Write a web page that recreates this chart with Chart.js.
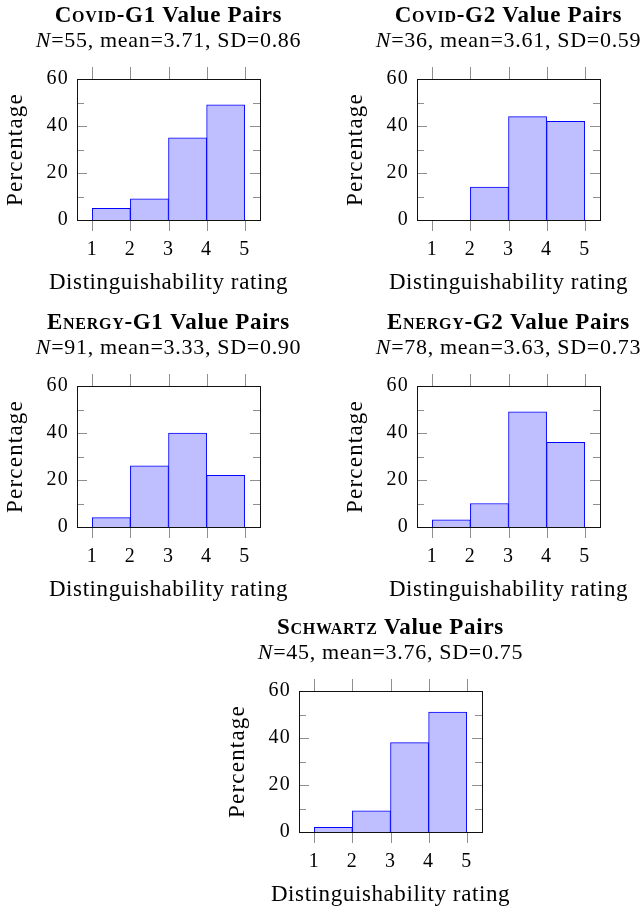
<!DOCTYPE html>
<html>
<head>
<meta charset="utf-8">
<title>Distinguishability ratings</title>
<script src="https://cdn.jsdelivr.net/npm/chart.js@4.4.1/dist/chart.umd.min.js"></script>
<style>
  html, body { margin: 0; padding: 0; background: #fff; overflow: hidden; }
  #page { position: relative; width: 641px; height: 908px; overflow: hidden; }
  canvas { position: absolute; }
</style>
</head>
<body>
<div id="page">
  <canvas id="covidG1" width="320" height="300" style="left:0px;top:0px"></canvas>
  <canvas id="covidG2" width="320" height="300" style="left:340px;top:0px"></canvas>
  <canvas id="energyG1" width="320" height="300" style="left:0px;top:307px"></canvas>
  <canvas id="energyG2" width="320" height="300" style="left:340px;top:307px"></canvas>
  <canvas id="schwartz" width="320" height="300" style="left:222px;top:612px"></canvas>
</div>
<script>
// histogram bins (rating intervals) and axis ticks
const binEdges = [1, 2, 3, 4, 5];
const yTicks = [0, 20, 40, 60];
const yMinorTicks = [10, 30, 50];

// percentage of value pairs per rating bin
const covidG1 = [5, 9, 35, 49];
const covidG2 = [0, 14, 44, 42];
const energyG1 = [4, 26, 40, 22];
const energyG2 = [3, 10, 49, 36];
const schwartz = [2, 9, 38, 51];

const panelIds = ['covidG1', 'covidG2', 'energyG1', 'energyG2', 'schwartz'];
const percentages = [covidG1, covidG2, energyG1, energyG2, schwartz];
const groupNames = ['Covid', 'Covid', 'Energy', 'Energy', 'Schwartz'];
const groupTags = ['-G1', '-G2', '-G1', '-G2', ''];
const sampleSizes = [55, 36, 91, 78, 45];
const means = ['3.71', '3.61', '3.33', '3.63', '3.76'];
const sds = ['0.86', '0.59', '0.90', '0.73', '0.75'];
const xTitle = 'Distinguishability rating';
const yTitle = 'Percentage';

const serif = '"Liberation Serif", "Times New Roman", serif';
const tickFont = { family: serif, size: 20 };
const labelFont = { family: serif, size: 23 };
const hasCaps = 'fontVariantCaps' in CanvasRenderingContext2D.prototype;

// Liberation Serif runs narrower than the book face, so open the text up a bit
const spacing = {
  id: 'spacing',
  beforeDraw(chart) { chart.ctx.letterSpacing = '1.2px'; },
  afterDraw(chart) { chart.ctx.letterSpacing = '0px'; }
};

// frame with pgfplots-like ticks: x ticks outside top/bottom, y ticks inside both sides
const frame = {
  id: 'frame',
  afterDatasetsDraw(chart) {
    const { ctx, chartArea: a, scales: { x, y } } = chart;
    ctx.save();
    ctx.lineWidth = 1;
    ctx.strokeStyle = '#8f8f8f';
    ctx.beginPath();
    binEdges.forEach(v => {
      const px = Math.round(x.getPixelForValue(v)) + 0.5;
      ctx.moveTo(px, a.top - 12); ctx.lineTo(px, a.top);
      ctx.moveTo(px, a.bottom); ctx.lineTo(px, a.bottom + 11);
    });
    const yTick = (v, len) => {
      const py = Math.round(y.getPixelForValue(v)) + 0.5;
      ctx.moveTo(a.left, py); ctx.lineTo(a.left + len, py);
      ctx.moveTo(a.right, py); ctx.lineTo(a.right - len, py);
    };
    yTicks.forEach(v => yTick(v, 10));
    yMinorTicks.forEach(v => yTick(v, 7));
    ctx.stroke();
    ctx.strokeStyle = '#111';
    ctx.strokeRect(Math.round(a.left) + 0.5, Math.round(a.top) + 0.5,
      Math.round(a.right - a.left), Math.round(a.bottom - a.top));
    ctx.restore();
  }
};

function drawRuns(ctx, runs, cx, baseline, gap) {
  ctx.letterSpacing = gap;
  let total = 0;
  runs.forEach(r => {
    ctx.font = r.font;
    if (hasCaps) ctx.fontVariantCaps = r.caps ? 'small-caps' : 'normal';
    r.w = ctx.measureText(r.text).width;
    total += r.w;
  });
  let x = cx - total / 2;
  ctx.fillStyle = '#000';
  ctx.textAlign = 'left';
  ctx.textBaseline = 'alphabetic';
  runs.forEach(r => {
    ctx.font = r.font;
    if (hasCaps) ctx.fontVariantCaps = r.caps ? 'small-caps' : 'normal';
    ctx.fillText(r.text, x, baseline);
    x += r.w;
  });
  if (hasCaps) ctx.fontVariantCaps = 'normal';
}

// bold small-caps title, statistics line and the x-axis caption
function header(i) {
  const bold = 'bold 23px ' + serif;
  const name = groupNames[i];
  const rest = name.slice(1);
  const title = [
    { text: name[0], font: bold },
    hasCaps ? { text: rest, font: bold, caps: true } : { text: rest.toUpperCase(), font: 'bold 17px ' + serif },
    { text: groupTags[i] + ' Value Pairs', font: bold }
  ];
  const subtitle = [
    { text: 'N', font: 'italic 22px ' + serif },
    { text: '=' + sampleSizes[i] + ', mean=' + means[i] + ', SD=' + sds[i], font: '22px ' + serif }
  ];
  const caption = [{ text: xTitle, font: labelFont.size + 'px ' + serif }];
  return {
    id: 'header' + i,
    afterDraw(chart) {
      const { ctx, chartArea: a } = chart;
      const cx = (a.left + a.right) / 2;
      ctx.save();
      drawRuns(ctx, title, cx, 22, '0.7px');
      drawRuns(ctx, subtitle, cx, 47, '0.7px');
      drawRuns(ctx, caption, cx, a.bottom + 69, '0.6px');
      ctx.restore();
    }
  };
}

function histogram(i) {
  const values = percentages[i];
  const points = values.map((v, k) => ({ x: (binEdges[k] + binEdges[k + 1]) / 2, y: v }));
  return new Chart(document.getElementById(panelIds[i]), {
    type: 'bar',
    data: {
      datasets: [{
        data: points,
        backgroundColor: '#bfbfff',
        borderColor: '#0000ff',
        borderWidth: 1,
        barPercentage: 1,
        categoryPercentage: 1
      }]
    },
    options: {
      responsive: false,
      animation: false,
      devicePixelRatio: 1,
      layout: { padding: { top: 79, right: 60, left: 0, bottom: 0 } },
      plugins: { legend: { display: false }, tooltip: { enabled: false } },
      scales: {
        x: {
          type: 'linear',
          min: 0.6,
          max: 5.4,
          offset: false,
          grid: { display: false, drawTicks: false },
          border: { display: false },
          afterBuildTicks: s => { s.ticks = binEdges.map(v => ({ value: v })); },
          afterFit: s => { s.height = 80; },
          ticks: { padding: 18, color: '#000', font: tickFont },
          title: { display: false }
        },
        y: {
          min: 0,
          max: 60,
          grid: { display: false, drawTicks: false },
          border: { display: false },
          afterBuildTicks: s => { s.ticks = yTicks.map(v => ({ value: v })); },
          afterFit: s => { s.width = 77; },
          ticks: { padding: 8, color: '#000', font: tickFont },
          title: {
            display: true, text: yTitle, color: '#000',
            font: labelFont, padding: { top: 2, bottom: 0 }
          }
        }
      }
    },
    plugins: [spacing, frame, header(i)]
  });
}

panelIds.forEach((id, i) => histogram(i));
</script>
</body>
</html>
